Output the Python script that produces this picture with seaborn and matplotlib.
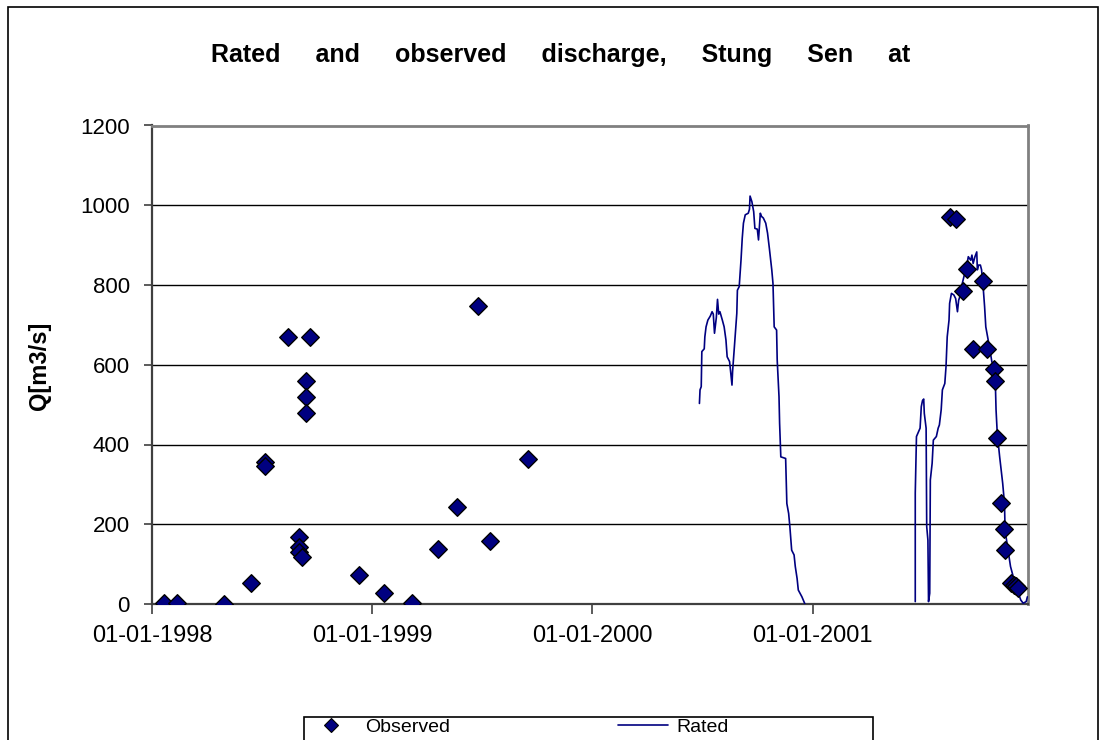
import matplotlib
matplotlib.use("Agg")
import matplotlib.pyplot as plt
from matplotlib.lines import Line2D
from matplotlib.patches import Rectangle
import pandas as pd
import seaborn as sns

# Observed discharge measurements (gauging dates and Q in m3/s)
obs_dates = [
    "1998-01-21", "1998-02-11", "1998-04-30", "1998-06-15", "1998-07-08",
    "1998-07-08", "1998-08-14", "1998-09-20", "1998-09-13", "1998-09-13",
    "1998-09-13", "1998-09-01", "1998-09-02", "1998-09-02", "1998-09-06",
    "1998-12-11", "1999-01-20", "1999-03-08", "1999-04-20", "1999-05-22",
    "1999-06-26", "1999-07-15", "1999-09-16",
    "2001-08-16", "2001-08-27", "2001-09-08", "2001-09-14", "2001-09-24",
    "2001-10-11", "2001-10-17", "2001-10-29", "2001-10-31", "2001-11-03",
    "2001-11-09", "2001-11-14", "2001-11-16", "2001-11-26", "2001-12-01",
    "2001-12-04", "2001-12-08",
]
obs_q = [
    3, 3, 0, 53, 355,
    345, 670, 670, 559, 519,
    479, 168, 144, 130, 119,
    73, 27, 3, 137, 243,
    748, 157, 363,
    970, 965, 785, 841, 639,
    811, 639, 589, 559, 417,
    253, 189, 135, 52, 47,
    44, 40,
]

# Discharge computed from the rating curve, 2000 season
rated_2000_dates = [
    "2000-06-27", "2000-06-28", "2000-06-30", "2000-07-01", "2000-07-05",
    "2000-07-06", "2000-07-08", "2000-07-11", "2000-07-15", "2000-07-18",
    "2000-07-20", "2000-07-22", "2000-07-25", "2000-07-27", "2000-07-29",
    "2000-07-31", "2000-08-04", "2000-08-07", "2000-08-10", "2000-08-12",
    "2000-08-16", "2000-08-18", "2000-08-20", "2000-08-21", "2000-08-24",
    "2000-08-26", "2000-08-28", "2000-08-29", "2000-09-01", "2000-09-04",
    "2000-09-06", "2000-09-08", "2000-09-11", "2000-09-16", "2000-09-18",
    "2000-09-19", "2000-09-22", "2000-09-25", "2000-09-27", "2000-10-01",
    "2000-10-03", "2000-10-06", "2000-10-08", "2000-10-11", "2000-10-15",
    "2000-10-18", "2000-10-21", "2000-10-25", "2000-10-27", "2000-10-29",
    "2000-11-02", "2000-11-03", "2000-11-06", "2000-11-07", "2000-11-09",
    "2000-11-17", "2000-11-19", "2000-11-22", "2000-11-24", "2000-11-27",
    "2000-12-01", "2000-12-03", "2000-12-06", "2000-12-08", "2000-12-14",
    "2000-12-19",
]
rated_2000_q = [
    503, 537, 545, 633, 640,
    670, 695, 712, 722, 733,
    727, 679, 718, 764, 727,
    733, 712, 695, 662, 620,
    608, 579, 549, 583, 645,
    687, 729, 787, 796, 863,
    917, 955, 976, 980, 990,
    1023, 1009, 984, 942, 940,
    913, 980, 972, 968, 955,
    930, 892, 838, 804, 695,
    687, 612, 520, 453, 369,
    365, 252, 227, 194, 135,
    123, 94, 64, 35, 18,
    0,
]

# Discharge computed from the rating curve, 2001 season
rated_2001_dates = [
    "2001-06-20", "2001-06-20", "2001-06-22", "2001-06-28", "2001-06-30",
    "2001-07-02", "2001-07-04", "2001-07-05", "2001-07-08", "2001-07-09",
    "2001-07-11", "2001-07-12", "2001-07-14", "2001-07-15", "2001-07-18",
    "2001-07-20", "2001-07-25", "2001-07-28", "2001-07-30", "2001-08-02",
    "2001-08-04", "2001-08-08", "2001-08-10", "2001-08-12", "2001-08-15",
    "2001-08-16", "2001-08-19", "2001-08-23", "2001-08-26", "2001-08-29",
    "2001-08-31", "2001-09-03", "2001-09-06", "2001-09-10", "2001-09-14",
    "2001-09-16", "2001-09-20", "2001-09-22", "2001-09-24", "2001-09-27",
    "2001-09-30", "2001-10-01", "2001-10-03", "2001-10-06", "2001-10-08",
    "2001-10-11", "2001-10-13", "2001-10-15", "2001-10-18", "2001-10-21",
    "2001-10-25", "2001-10-28", "2001-10-31", "2001-11-01", "2001-11-03",
    "2001-11-07", "2001-11-12", "2001-11-15", "2001-11-16", "2001-11-20",
    "2001-11-25", "2001-11-28", "2001-12-03", "2001-12-08", "2001-12-12",
    "2001-12-16", "2001-12-21", "2001-12-23",
]
rated_2001_q = [
    6, 278, 420, 441, 495,
    510, 514, 478, 441, 194,
    160, 6, 27, 311, 353,
    411, 420, 441, 449, 487,
    537, 553, 595, 670, 712,
    754, 779, 775, 766, 733,
    762, 775, 804, 829, 854,
    871, 862, 875, 854, 871,
    883, 838, 850, 850, 838,
    787, 746, 695, 670, 645,
    608, 595, 545, 487, 428,
    369, 303, 252, 185, 144,
    94, 77, 48, 27, 10,
    2, 6, 18,
]

year_ticks = ["1998-01-01", "1999-01-01", "2000-01-01", "2001-01-01"]
year_labels = ["01-01-1998", "01-01-1999", "01-01-2000", "01-01-2001"]
q_ticks = [0, 200, 400, 600, 800, 1000, 1200]
x_start, x_end = "1998-01-01", "2001-12-24"

NAVY = "#000080"
W, H = 1107, 740

sns.set_theme(style="white")
plt.rcParams["font.family"] = ["Liberation Sans", "DejaVu Sans"]
plt.rcParams["text.color"] = "black"

observed = pd.DataFrame({"date": pd.to_datetime(obs_dates), "q": obs_q})
rated = pd.concat([
    pd.DataFrame({"date": pd.to_datetime(rated_2000_dates), "q": rated_2000_q, "season": 2000}),
    pd.DataFrame({"date": pd.to_datetime(rated_2001_dates), "q": rated_2001_q, "season": 2001}),
], ignore_index=True)

fig = plt.figure(figsize=(W / 100, H / 100), dpi=100)
ax = fig.add_axes([152 / W, 136 / H, 876 / W, 478.5 / H])

sns.lineplot(data=rated, x="date", y="q", units="season", estimator=None,
             sort=False, color=NAVY, linewidth=1.2, ax=ax, legend=False, zorder=3)
sns.scatterplot(data=observed, x="date", y="q", marker="D", s=80,
                color=NAVY, edgecolor="black", linewidth=1.0, ax=ax,
                legend=False, zorder=4)

ax.set_xlim(pd.Timestamp(x_start), pd.Timestamp(x_end))
ax.set_ylim(q_ticks[0], q_ticks[-1])
ax.set_yticks(q_ticks)
ax.set_yticklabels([str(v) for v in q_ticks])
ax.set_xticks(pd.to_datetime(year_ticks))
ax.set_xticklabels(year_labels)
ax.set_xlabel("")
ax.set_ylabel("")

ax.yaxis.grid(True, color="black", linewidth=1.0)
ax.xaxis.grid(False)
ax.set_axisbelow(True)

for side in ("top", "right"):
    ax.spines[side].set_color("#808080")
    ax.spines[side].set_linewidth(2.0)
for side in ("left", "bottom"):
    ax.spines[side].set_color("#404040")
    ax.spines[side].set_linewidth(1.6)

ax.tick_params(axis="y", direction="out", length=6, width=1.2, color="#404040",
               labelsize=16, pad=10, labelcolor="black", left=True)
ax.tick_params(axis="x", direction="out", length=7, width=1.2, color="#404040",
               labelsize=17, pad=8, labelcolor="black", bottom=True)

fig.text(561 / W, 1 - 55 / H,
         "Rated     and     observed     discharge,     Stung     Sen     at",
         ha="center", va="center", fontsize=18, fontweight="bold", color="black")
fig.text(40 / W, 1 - 366 / H, "Q[m3/s]", rotation=90, ha="center",
         va="center", fontsize=17, fontweight="bold", color="black")

# outer chart border and legend frame
fig.patches.append(Rectangle((8 / W, -0.1), 1090 / W, 1.1 - 7 / H,
                             transform=fig.transFigure, fill=False,
                             edgecolor="black", linewidth=1.2))
fig.patches.append(Rectangle((304 / W, -0.1), 569 / W, 0.1 + 1 - 717 / H,
                             transform=fig.transFigure, fill=False,
                             edgecolor="black", linewidth=1.2))

handles = [
    Line2D([], [], marker="D", linestyle="none", markersize=7,
           markerfacecolor=NAVY, markeredgecolor="black", markeredgewidth=0.8),
    Line2D([], [], color=NAVY, linewidth=1.2),
]
fig.legend(handles, ["Observed", "Rated"], loc="upper left",
           bbox_to_anchor=(306 / W, 1 - 718 / H), ncol=2, frameon=False,
           fontsize=14, handlelength=2.6, handletextpad=0.45,
           columnspacing=8.6, borderpad=0.0, borderaxespad=0,
           labelcolor="black")

fig.savefig("out.png", dpi=100)
